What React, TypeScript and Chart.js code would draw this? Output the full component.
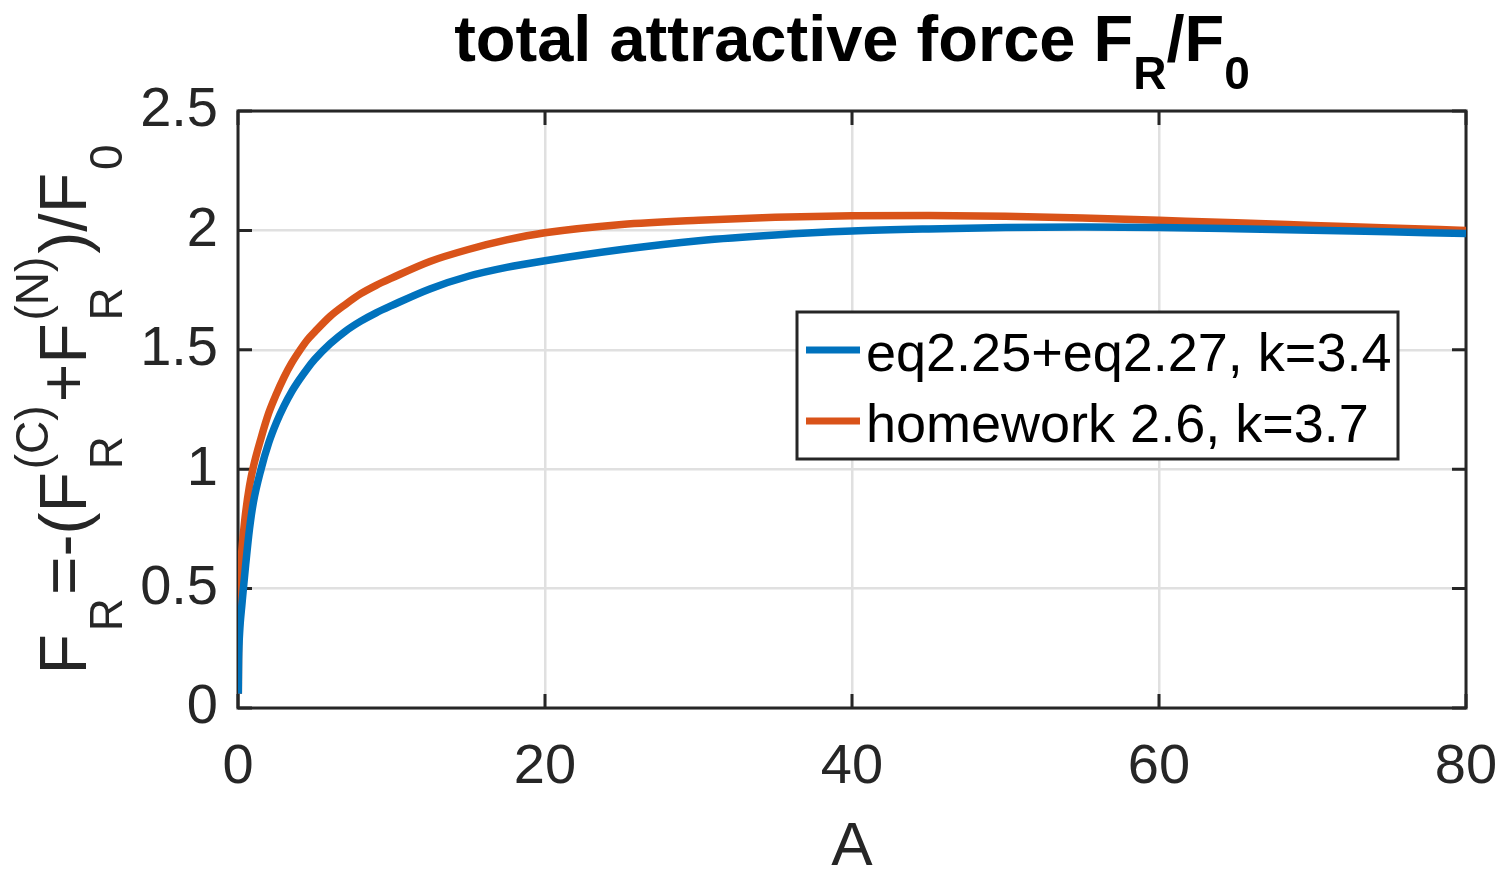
import React, { useEffect, useRef } from "react";
import { Chart, registerables } from "chart.js";

Chart.register(...registerables);

const A_VALUES = [0.02, 0.04, 0.07, 0.1, 0.15, 0.25, 0.35, 0.5, 0.75, 1, 1.5, 2, 2.5, 3, 3.5, 4, 4.5, 5, 6, 7, 8, 9, 10, 12.5, 15, 17.5, 20, 25, 30, 35, 40, 45, 50, 55, 60, 65, 70, 75, 80];
const EQ_SERIES = [0.06, 0.2, 0.27, 0.31, 0.36, 0.43, 0.5, 0.6, 0.75, 0.86, 1.0, 1.11, 1.195, 1.265, 1.325, 1.375, 1.42, 1.46, 1.525, 1.578, 1.62, 1.655, 1.685, 1.755, 1.808, 1.845, 1.873, 1.92, 1.957, 1.981, 1.997, 2.006, 2.012, 2.014, 2.012, 2.007, 2.001, 1.994, 1.987];
const HW_SERIES = [0.06, 0.28, 0.41, 0.48, 0.56, 0.66, 0.73, 0.82, 0.93, 1.01, 1.13, 1.235, 1.315, 1.385, 1.445, 1.495, 1.54, 1.575, 1.64, 1.69, 1.735, 1.77, 1.8, 1.87, 1.92, 1.96, 1.99, 2.025, 2.043, 2.055, 2.061, 2.062, 2.059, 2.052, 2.042, 2.032, 2.021, 2.01, 2.0];
const SERIES_LABELS = ["eq2.25+eq2.27, k=3.4", "homework 2.6, k=3.7"];
const SERIES_COLORS = ["#0072BD", "#D95319"];
const X_TICKS = [0, 20, 40, 60, 80];
const Y_TICKS = [0, 0.5, 1, 1.5, 2, 2.5];

const FONT = "'Liberation Sans', Arial, Helvetica, sans-serif";
const AXIS_COLOR = "#262626";

type Seg = { t: string; kind?: "sub" | "sup" | "stack"; sub?: string; sup?: string };

export default function App() {
  const ref = useRef<HTMLCanvasElement | null>(null);

  useEffect(() => {
    document.body.style.margin = "0";
    const canvas = ref.current;
    if (!canvas) return;

    const decorations = {
      id: "decorations",
      beforeDatasetsDraw(chart: any) {
        const { ctx, chartArea: ca, scales } = chart;
        ctx.save();
        ctx.strokeStyle = AXIS_COLOR;
        ctx.lineWidth = 3;
        const tl = 14;
        ctx.beginPath();
        for (const v of X_TICKS) {
          const x = scales.x.getPixelForValue(v);
          ctx.moveTo(x, ca.bottom);
          ctx.lineTo(x, ca.bottom - tl);
          ctx.moveTo(x, ca.top);
          ctx.lineTo(x, ca.top + tl);
        }
        for (const v of Y_TICKS) {
          const y = scales.y.getPixelForValue(v);
          ctx.moveTo(ca.left, y);
          ctx.lineTo(ca.left + tl, y);
          ctx.moveTo(ca.right, y);
          ctx.lineTo(ca.right - tl, y);
        }
        ctx.stroke();
        ctx.strokeRect(ca.left, ca.top, ca.right - ca.left, ca.bottom - ca.top);
        ctx.restore();
      },
      afterDraw(chart: any) {
        const { ctx, chartArea: ca } = chart;
        const cx = (ca.left + ca.right) / 2;
        const cy = (ca.top + ca.bottom) / 2;
        ctx.save();

        // Title
        const tMain = `bold 65px ${FONT}`;
        const tSub = `bold 46px ${FONT}`;
        const parts: [string, string, number][] = [
          ["total attractive force F", tMain, 0],
          ["R", tSub, 28],
          ["/F", tMain, 0],
          ["0", tSub, 28],
        ];
        let tw = 0;
        for (const [s, f] of parts) { ctx.font = f; tw += ctx.measureText(s).width; }
        let x = cx - tw / 2;
        ctx.fillStyle = "#000";
        ctx.textBaseline = "alphabetic";
        ctx.textAlign = "left";
        for (const [s, f, dy] of parts) {
          ctx.font = f;
          ctx.fillText(s, x, 61 + dy);
          x += ctx.measureText(s).width;
        }

        // X label
        ctx.fillStyle = AXIS_COLOR;
        ctx.font = `62px ${FONT}`;
        ctx.textAlign = "center";
        ctx.fillText("A", cx, 865);

        // Y label (rotated)
        const yMain = `66px ${FONT}`;
        const ySub = `46px ${FONT}`;
        const gap = 3;
        const segs: Seg[] = [
          { t: "F" }, { t: "R", kind: "sub" }, { t: "=-(F" },
          { t: "", kind: "stack", sub: "R", sup: "(C)" },
          { t: "+F" },
          { t: "", kind: "stack", sub: "R", sup: "(N)" },
          { t: ")/F" }, { t: "0", kind: "sub" },
        ];
        const segW = (s: Seg) => {
          if (s.kind === "stack") {
            ctx.font = ySub;
            return Math.max(ctx.measureText(s.sub!).width, ctx.measureText(s.sup!).width);
          }
          ctx.font = s.kind === "sub" ? ySub : yMain;
          return ctx.measureText(s.t).width;
        };
        let total = 0;
        for (const s of segs) total += segW(s) + gap;
        total -= gap;
        ctx.translate(86, cy);
        ctx.rotate(-Math.PI / 2);
        ctx.textAlign = "left";
        let px = -total / 2;
        const subDy = 36;
        const supDy = -38;
        for (const s of segs) {
          const w = segW(s);
          if (s.kind === "stack") {
            ctx.font = ySub;
            ctx.fillText(s.sub!, px, subDy);
            ctx.fillText(s.sup!, px, supDy);
          } else {
            ctx.font = s.kind === "sub" ? ySub : yMain;
            ctx.fillText(s.t, px, s.kind === "sub" ? subDy : 0);
          }
          px += w + gap;
        }
        ctx.setTransform(1, 0, 0, 1, 0, 0);

        // Legend
        const lx = 797, ly = 312, lw = 601, lh = 147;
        ctx.fillStyle = "#fff";
        ctx.fillRect(lx, ly, lw, lh);
        ctx.strokeStyle = AXIS_COLOR;
        ctx.lineWidth = 3;
        ctx.strokeRect(lx, ly, lw, lh);
        const rows = [350, 421];
        ctx.font = `54px ${FONT}`;
        ctx.textAlign = "left";
        ctx.textBaseline = "alphabetic";
        rows.forEach((ry, i) => {
          ctx.strokeStyle = SERIES_COLORS[i];
          ctx.lineWidth = 7;
          ctx.beginPath();
          ctx.moveTo(806, ry);
          ctx.lineTo(860, ry);
          ctx.stroke();
          ctx.fillStyle = "#000";
          ctx.fillText(SERIES_LABELS[i], 866, ry + 21);
        });
        ctx.restore();
      },
    };

    const mk = (vals: number[]) => A_VALUES.map((a, i) => ({ x: a, y: vals[i] }));

    const chart = new Chart(canvas, {
      type: "line",
      data: {
        datasets: [
          {
            label: SERIES_LABELS[0],
            data: mk(EQ_SERIES),
            borderColor: SERIES_COLORS[0],
            borderWidth: 7.5,
            pointRadius: 0,
            cubicInterpolationMode: "monotone",
            fill: false,
          },
          {
            label: SERIES_LABELS[1],
            data: mk(HW_SERIES),
            borderColor: SERIES_COLORS[1],
            borderWidth: 7.5,
            pointRadius: 0,
            cubicInterpolationMode: "monotone",
            fill: false,
          },
        ],
      },
      options: {
        responsive: false,
        animation: false,
        devicePixelRatio: 1,
        layout: { padding: { top: 111, right: 35, bottom: 0, left: 0 } },
        plugins: { legend: { display: false }, title: { display: false }, tooltip: { enabled: false } },
        scales: {
          x: {
            type: "linear",
            min: 0,
            max: 80,
            afterFit: (s: any) => { s.height = 163; s.paddingLeft = 0; s.paddingRight = 0; },
            afterBuildTicks: (s: any) => { s.ticks = X_TICKS.map((v) => ({ value: v })); },
            grid: { color: "#e0e0e0", lineWidth: 2.5, drawTicks: false },
            border: { display: false },
            ticks: {
              padding: 26,
              color: AXIS_COLOR,
              font: { family: FONT, size: 56 },
              maxRotation: 0,
              callback: (v: any) => String(v),
            },
          },
          y: {
            type: "linear",
            min: 0,
            max: 2.5,
            afterFit: (s: any) => { s.width = 238; s.paddingTop = 0; s.paddingBottom = 0; },
            afterBuildTicks: (s: any) => { s.ticks = Y_TICKS.map((v) => ({ value: v })); },
            grid: { color: "#e0e0e0", lineWidth: 2.5, drawTicks: false },
            border: { display: false },
            ticks: {
              padding: 20,
              color: AXIS_COLOR,
              font: { family: FONT, size: 56 },
              callback: (v: any) => String(v),
            },
          },
        },
      },
      plugins: [decorations],
    });

    return () => chart.destroy();
  }, []);

  return <canvas ref={ref} width={1501} height={871} style={{ display: "block" }} />;
}
